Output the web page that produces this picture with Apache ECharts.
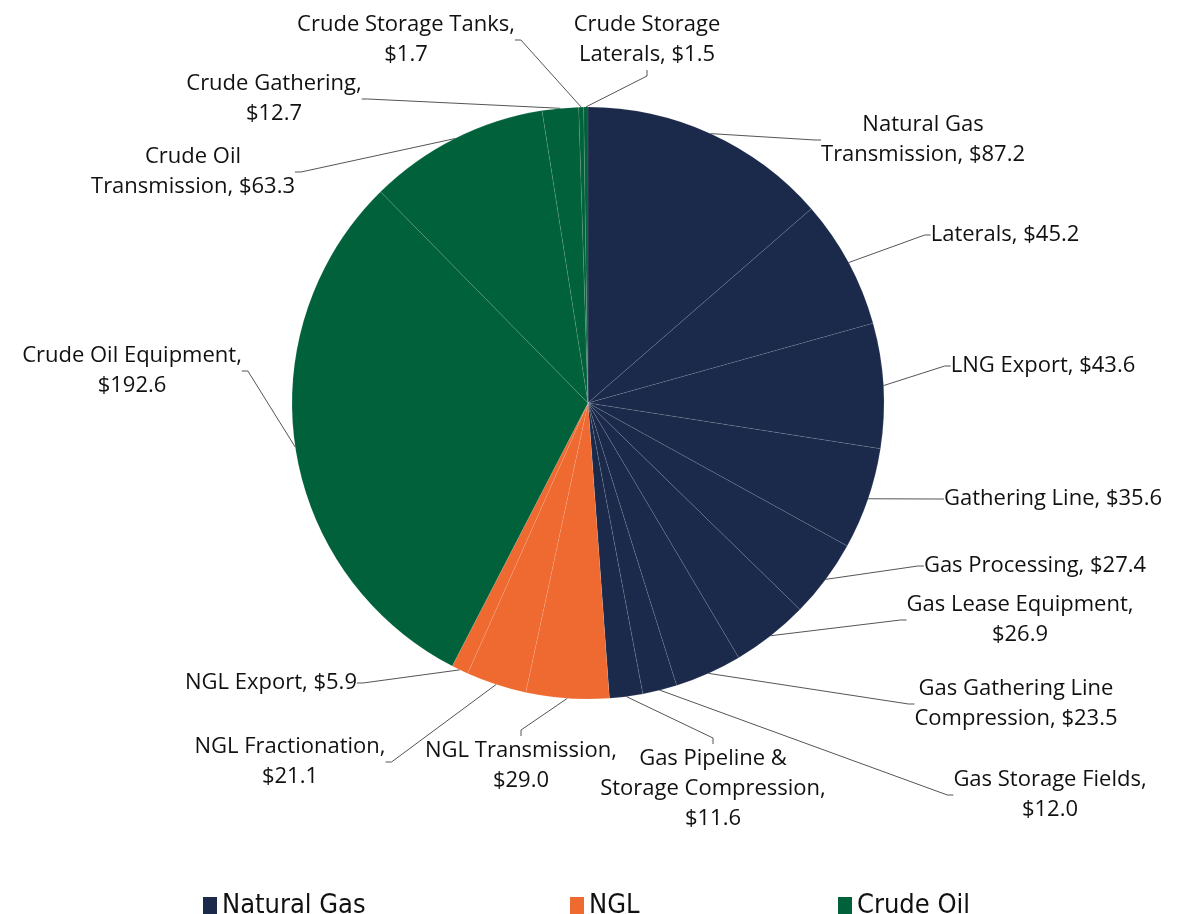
<!DOCTYPE html>
<html lang="en">
<head>
    <meta charset="UTF-8">
    <title>Spending by segment</title>
    <script src="https://cdn.jsdelivr.net/npm/echarts@6/dist/echarts.min.js"></script>
    <style>
        html, body { margin: 0; padding: 0; background: #fff; }
        #chart { width: 1180px; height: 914px; }
    </style>
</head>
<body>
    <div id="chart"></div>
    <script>
        // slice names (with the line break used in the label) and values, clockwise from 12 o'clock
        let names = [
            'Natural Gas\nTransmission', 'Laterals', 'LNG Export', 'Gathering Line', 'Gas Processing',
            'Gas Lease Equipment', 'Gas Gathering Line\nCompression', 'Gas Storage Fields',
            'Gas Pipeline &\nStorage Compression', 'NGL Transmission', 'NGL Fractionation', 'NGL Export',
            'Crude Oil Equipment', 'Crude Oil\nTransmission', 'Crude Gathering', 'Crude Storage Tanks',
            'Crude Storage\nLaterals'
        ];
        let values = [87.2, 45.2, 43.6, 35.6, 27.4, 26.9, 23.5, 12.0, 11.6, 29.0, 21.1, 5.9, 192.6, 63.3, 12.7, 1.7, 1.5];
        // value goes on its own line?
        let valueBreak = [false, false, false, false, false, true, false, true, true, true, true, false, true, false, true, true, false];
        let groupOf = [0, 0, 0, 0, 0, 0, 0, 0, 0, 1, 1, 1, 2, 2, 2, 2, 2];
        let groups = ['Natural Gas', 'NGL', 'Crude Oil'];
        let groupColors = ['#1b2a4b', '#ee6a30', '#00613a'];

        // where each label sits (text centre)
        let labelSpots = [
            [923, 140], [1005, 235], [1043, 366], [1053, 499], [1035, 566], [1020, 620],
            [1016, 704], [1050, 795], [713, 789], [521, 766], [290, 762], [271, 683],
            [132, 371], [193, 172], [274, 99], [406, 40], [647, 40]
        ];
        let legendLeft = [198, 565, 833];

        let chart = echarts.init(document.getElementById('chart'));

        let pieData = names.map((n, i) => ({
            name: n.replace('\n', ' '),
            value: values[i],
            itemStyle: { color: groupColors[groupOf[i]] }
        }));

        let series = [{
            name: 'Spending',
            type: 'pie',
            center: [588, 403],
            radius: 296,
            startAngle: 90,
            clockwise: true,
            avoidLabelOverlap: false,
            data: pieData,
            itemStyle: {
                borderColor: 'rgba(255,255,255,0.18)',
                borderWidth: 0.5
            },
            label: {
                show: true,
                formatter: function (p) {
                    let i = p.dataIndex;
                    return names[i] + ',' + (valueBreak[i] ? '\n' : ' ') + '$' + values[i].toFixed(1);
                },
                fontFamily: 'Open Sans',
                fontSize: 22,
                lineHeight: 30,
                color: '#111',
                align: 'center'
            },
            labelLine: {
                show: true,
                length: 20,
                length2: 6,
                lineStyle: { color: '#555', width: 1 }
            },
            labelLayout: function (params) {
                let s = labelSpots[params.dataIndex];
                return { x: s[0], y: s[1], align: 'center', verticalAlign: 'middle' };
            },
            emphasis: { scale: false }
        }];

        // empty series so the legend shows the three groups
        groups.forEach((g, k) => {
            series.push({
                name: g,
                type: 'pie',
                radius: 0,
                data: [],
                showEmptyCircle: false,
                itemStyle: { color: groupColors[k] }
            });
        });

        let option = {
            backgroundColor: '#fff',
            animation: false,
            legend: groups.map((g, k) => ({
                data: [g],
                left: legendLeft[k],
                top: 887,
                icon: 'rect',
                itemWidth: 14,
                itemHeight: 17,
                itemGap: 6,
                textStyle: {
                    fontFamily: '"DejaVu Sans Condensed", "Liberation Sans Narrow", sans-serif',
                    fontSize: 27,
                    color: '#111'
                }
            })),
            series: series
        };
        chart.setOption(option);
    </script>
</body>
</html>
